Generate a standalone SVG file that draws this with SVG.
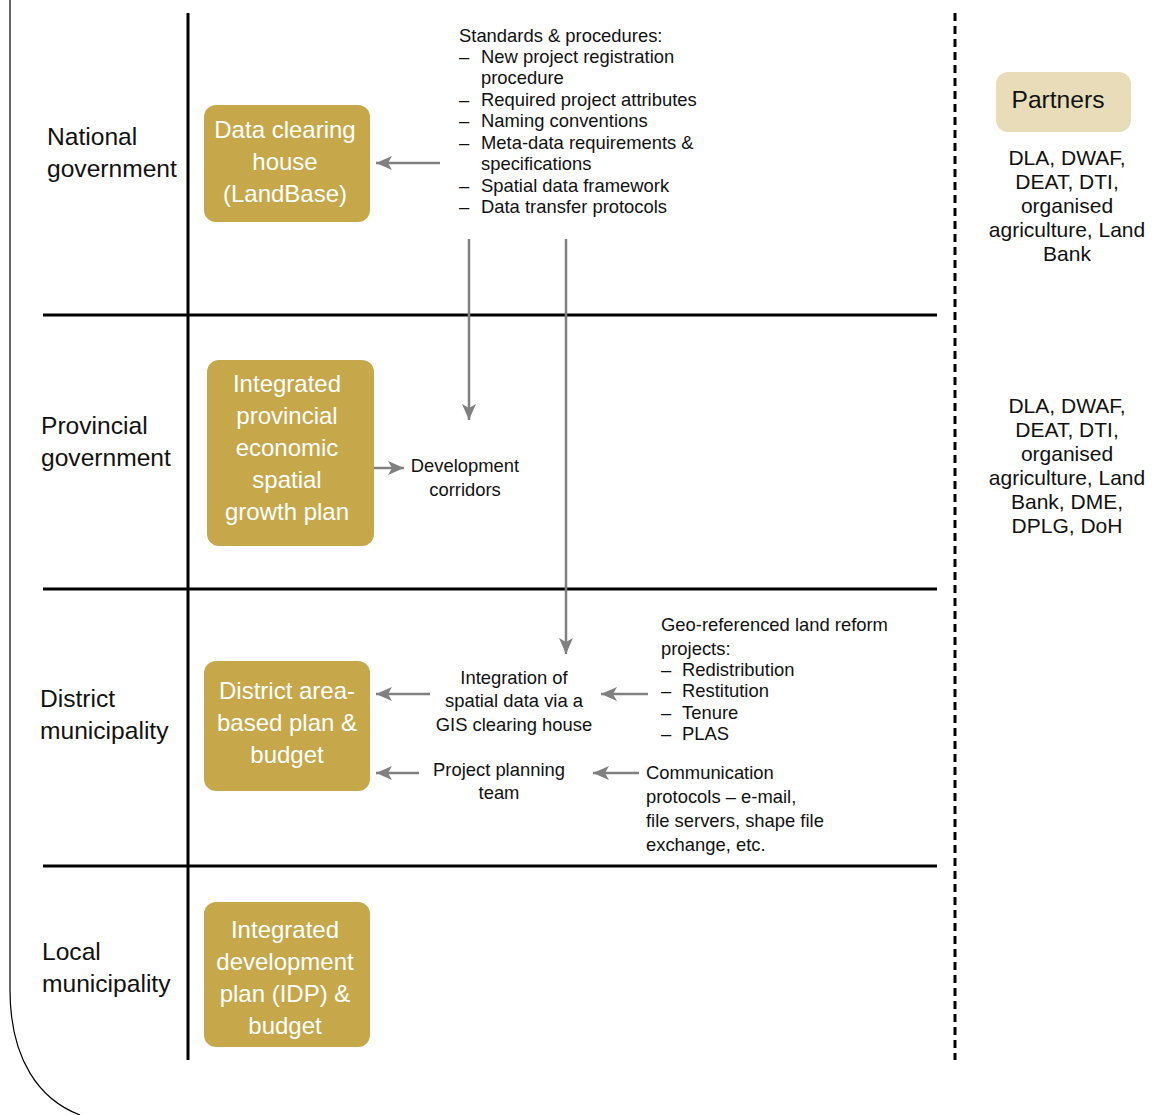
<svg xmlns="http://www.w3.org/2000/svg" width="1166" height="1115" viewBox="0 0 1166 1115">
<style>
text{font-family:"Liberation Sans","DejaVu Sans",sans-serif;fill:#111}
.lbl{font-size:24.6px}
.box{fill:#C6A84A}
.bt{font-size:24px;fill:#fff;text-anchor:middle}
.sm{font-size:18.4px}
.pt{font-size:21px;text-anchor:middle}
.mid{text-anchor:middle}
.grid{stroke:#000;stroke-width:3;fill:none}
.con{stroke:#808080;stroke-width:2.5;fill:none;marker-end:url(#ah)}
</style>
<defs>
<marker id="ah" markerUnits="userSpaceOnUse" markerWidth="18" markerHeight="14" refX="16" refY="7" orient="auto">
<path d="M0,0 L16,7 L0,14 L4,7 Z" fill="#808080"/>
</marker>
</defs>
<g id="frame">
<path d="M10,0 V990 C10,1060 40,1100 80,1115" stroke="#000" stroke-width="1.2" fill="none"/>
<line class="grid" x1="188" y1="13" x2="188" y2="1060"/>
<line class="grid" x1="43" y1="315" x2="937" y2="315"/>
<line class="grid" x1="43" y1="589" x2="937" y2="589"/>
<line class="grid" x1="43" y1="866" x2="937" y2="866"/>
<line x1="955" y1="13" x2="955" y2="1060" stroke="#000" stroke-width="3" stroke-dasharray="8,5"/>
</g>
<g id="row-labels">
<text class="lbl" x="47" y="145">National</text>
<text class="lbl" x="47" y="177">government</text>
<text class="lbl" x="41" y="434">Provincial</text>
<text class="lbl" x="41" y="466">government</text>
<text class="lbl" x="40" y="707">District</text>
<text class="lbl" x="40" y="739">municipality</text>
<text class="lbl" x="42" y="960">Local</text>
<text class="lbl" x="42" y="992">municipality</text>
</g>
<g id="n-data-clearing">
<rect class="box" x="204" y="105" width="166" height="117" rx="12"/>
<text class="bt" x="285" y="138">Data clearing</text>
<text class="bt" x="285" y="170">house</text>
<text class="bt" x="285" y="202">(LandBase)</text>
</g>
<g id="n-provincial-plan">
<rect class="box" x="207" y="360" width="167" height="186" rx="12"/>
<text class="bt" x="287" y="392">Integrated</text>
<text class="bt" x="287" y="424">provincial</text>
<text class="bt" x="287" y="456">economic</text>
<text class="bt" x="287" y="488">spatial</text>
<text class="bt" x="287" y="520">growth plan</text>
</g>
<g id="n-district-plan">
<rect class="box" x="204" y="661" width="166" height="130" rx="12"/>
<text class="bt" x="287" y="699">District area-</text>
<text class="bt" x="287" y="731">based plan &amp;</text>
<text class="bt" x="287" y="763">budget</text>
</g>
<g id="n-idp">
<rect class="box" x="204" y="902" width="166" height="145" rx="12"/>
<text class="bt" x="285" y="938">Integrated</text>
<text class="bt" x="285" y="970">development</text>
<text class="bt" x="285" y="1002">plan (IDP) &amp;</text>
<text class="bt" x="285" y="1034">budget</text>
</g>
<g id="n-standards">
<text class="sm" x="459" y="42">Standards &amp; procedures:</text>
<text class="sm" x="459" y="63">–</text><text class="sm" x="481" y="63">New project registration</text>
<text class="sm" x="481" y="84">procedure</text>
<text class="sm" x="459" y="106">–</text><text class="sm" x="481" y="106">Required project attributes</text>
<text class="sm" x="459" y="127">–</text><text class="sm" x="481" y="127">Naming conventions</text>
<text class="sm" x="459" y="149">–</text><text class="sm" x="481" y="149">Meta-data requirements &amp;</text>
<text class="sm" x="481" y="170">specifications</text>
<text class="sm" x="459" y="192">–</text><text class="sm" x="481" y="192">Spatial data framework</text>
<text class="sm" x="459" y="213">–</text><text class="sm" x="481" y="213">Data transfer protocols</text>
</g>
<g id="n-partners">
<rect x="996" y="72" width="135" height="60" rx="12" fill="#E8DDB8"/>
<text class="lbl mid" x="1058" y="108">Partners</text>
</g>
<g id="n-partners-national">
<text class="pt" x="1067" y="165">DLA, DWAF,</text>
<text class="pt" x="1067" y="189">DEAT, DTI,</text>
<text class="pt" x="1067" y="213">organised</text>
<text class="pt" x="1067" y="237">agriculture, Land</text>
<text class="pt" x="1067" y="261">Bank</text>
</g>
<g id="n-partners-provincial">
<text class="pt" x="1067" y="413">DLA, DWAF,</text>
<text class="pt" x="1067" y="437">DEAT, DTI,</text>
<text class="pt" x="1067" y="461">organised</text>
<text class="pt" x="1067" y="485">agriculture, Land</text>
<text class="pt" x="1067" y="509">Bank, DME,</text>
<text class="pt" x="1067" y="533">DPLG, DoH</text>
</g>
<g id="n-dev-corridors">
<text class="sm mid" x="465" y="472">Development</text>
<text class="sm mid" x="465" y="496">corridors</text>
</g>
<g id="n-integration">
<text class="sm mid" x="514" y="684">Integration of</text>
<text class="sm mid" x="514" y="707">spatial data via a</text>
<text class="sm mid" x="514" y="731">GIS clearing house</text>
</g>
<g id="n-project-team">
<text class="sm mid" x="499" y="776">Project planning</text>
<text class="sm mid" x="499" y="799">team</text>
</g>
<g id="n-georef">
<text class="sm" x="661" y="631">Geo-referenced land reform</text>
<text class="sm" x="661" y="655">projects:</text>
<text class="sm" x="661" y="676">–</text><text class="sm" x="682" y="676">Redistribution</text>
<text class="sm" x="661" y="697">–</text><text class="sm" x="682" y="697">Restitution</text>
<text class="sm" x="661" y="719">–</text><text class="sm" x="682" y="719">Tenure</text>
<text class="sm" x="661" y="740">–</text><text class="sm" x="682" y="740">PLAS</text>
</g>
<g id="n-communication">
<text class="sm" x="646" y="779">Communication</text>
<text class="sm" x="646" y="803">protocols – e-mail,</text>
<text class="sm" x="646" y="827">file servers, shape file</text>
<text class="sm" x="646" y="851">exchange, etc.</text>
</g>
<g id="connectors">
<line class="con" x1="440" y1="163" x2="376" y2="163"/>
<line class="con" x1="469" y1="239" x2="469" y2="420"/>
<line class="con" x1="566" y1="239" x2="566" y2="654"/>
<line class="con" x1="374" y1="468" x2="404" y2="468"/>
<line class="con" x1="430" y1="694" x2="376" y2="694"/>
<line class="con" x1="648" y1="694" x2="601" y2="694"/>
<line class="con" x1="419" y1="773" x2="376" y2="773"/>
<line class="con" x1="639" y1="773" x2="593" y2="773"/>
</g>
</svg>
